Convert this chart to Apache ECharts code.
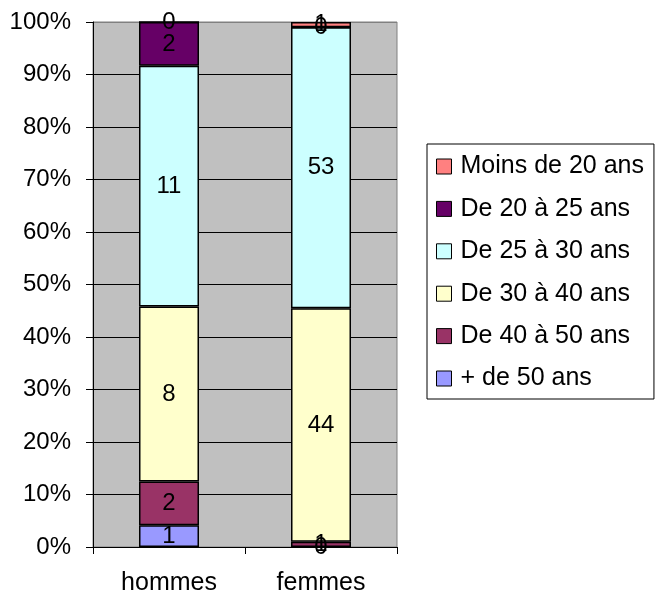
<!DOCTYPE html>
<html>
<head>
<meta charset="utf-8">
<script src="https://cdn.jsdelivr.net/npm/echarts@6/dist/echarts.min.js"></script>
<style>
  html, body { margin: 0; padding: 0; background: #fff; }
  #chart { width: 657px; height: 601px; }
</style>
</head>
<body>
<div id="chart"></div>
<script>
// Categories
const categories = ['hommes', 'femmes'];
// Series (bottom to top of each stack), raw counts per category
const seriesNames = ['+ de 50 ans', 'De 40 à 50 ans', 'De 30 à 40 ans', 'De 25 à 30 ans', 'De 20 à 25 ans', 'Moins de 20 ans'];
const plus50   = [1, 0];
const de40a50  = [2, 1];
const de30a40  = [8, 44];
const de25a30  = [11, 53];
const de20a25  = [2, 0];
const moins20  = [0, 1];
const seriesColors = ['#9999FF', '#993366', '#FFFFCC', '#CCFFFF', '#660066', '#FF8080'];
// Y axis ticks (percent)
const yTicks = [0, 10, 20, 30, 40, 50, 60, 70, 80, 90, 100];

const counts = [plus50, de40a50, de30a40, de25a30, de20a25, moins20];
const totals = categories.map((c, i) => counts.reduce((s, arr) => s + arr[i], 0));

const FONT = 'Liberation Sans, Arial, sans-serif';

const series = counts.map((arr, k) => ({
  name: seriesNames[k],
  type: 'bar',
  stack: 'total',
  barWidth: 60,
  data: arr.map((v, i) => ({ value: v / totals[i] * 100, raw: v })),
  itemStyle: { color: seriesColors[k], borderColor: '#000', borderWidth: 1.5 },
  label: {
    show: true,
    position: 'inside',
    color: '#000',
    fontFamily: FONT,
    fontSize: 24,
    formatter: p => String(p.data.raw)
  },
  emphasis: { disabled: true }
}));

const chart = echarts.init(document.getElementById('chart'), null, { renderer: 'canvas' });
chart.setOption({
  animation: false,
  backgroundColor: '#fff',
  grid: {
    left: 93, right: 260, top: 22, bottom: 54,
    show: true, backgroundColor: '#C0C0C0', borderColor: '#808080', borderWidth: 1
  },
  xAxis: {
    type: 'category',
    data: categories,
    axisLine: { show: true, lineStyle: { color: '#000', width: 1 } },
    axisTick: { show: true, alignWithLabel: false, length: 7, lineStyle: { color: '#000' } },
    axisLabel: { color: '#000', fontFamily: FONT, fontSize: 25, lineHeight: 25, margin: 24 },
    splitLine: { show: false }
  },
  yAxis: {
    type: 'value',
    min: yTicks[0],
    max: yTicks[yTicks.length - 1],
    interval: yTicks[1] - yTicks[0],
    axisLine: { show: true, lineStyle: { color: '#000', width: 1 } },
    axisTick: { show: true, length: 7, lineStyle: { color: '#000' } },
    axisLabel: { color: '#000', fontFamily: FONT, fontSize: 24, margin: 22, formatter: '{value}%' },
    splitLine: {
      show: true,
      lineStyle: { color: yTicks.map((t, i) => i === yTicks.length - 1 ? '#808080' : '#000'), width: 1 }
    }
  },
  legend: {
    orient: 'vertical',
    left: 427,
    top: 144,
    data: seriesNames.slice().reverse(),
    icon: 'rect',
    itemWidth: 15,
    itemHeight: 15,
    itemGap: 17.4,
    padding: [10, 10, 8, 9],
    backgroundColor: '#fff',
    borderColor: '#000',
    borderWidth: 1,
    borderRadius: 0,
    itemStyle: { borderColor: '#000', borderWidth: 1 },
    textStyle: { color: '#000', fontFamily: FONT, fontSize: 25, lineHeight: 25, padding: [0, 0, 0, 4] },
    selectedMode: false
  },
  series: series
});
</script>
</body>
</html>
